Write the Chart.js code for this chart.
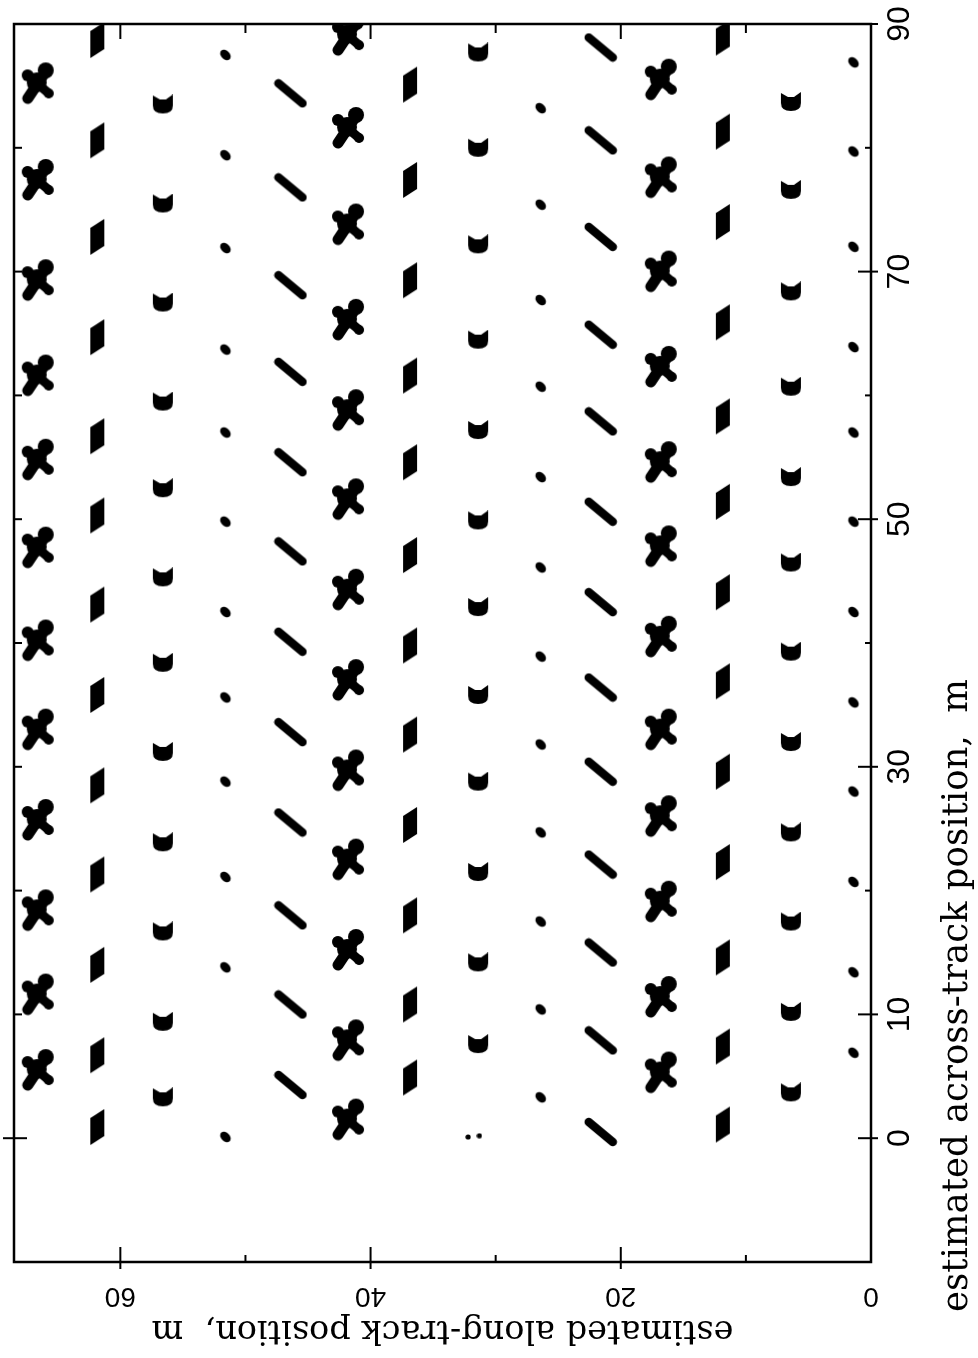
<!DOCTYPE html>
<html><head><meta charset="utf-8">
<script src="https://cdn.jsdelivr.net/npm/chart.js@4.4.1/dist/chart.umd.min.js"></script>
<style>
html,body{margin:0;padding:0;background:#fff;overflow:hidden;width:978px;height:1358px}
#wrap{position:absolute;left:0;top:0;width:1358px;height:978px;transform-origin:0 0;transform:translate(0px,1358px) rotate(-90deg);}
canvas{display:block}
</style></head>
<body><div id="wrap"><canvas id="c" width="1358" height="978" style="width:1358px;height:978px"></canvas></div>
<script>
// ---- text ----
const xAxisTitle = 'estimated across-track position,  m';
const yAxisTitle = 'estimated along-track position,  m';
// ---- ticks ----
const xTicks = [-10, 0, 10, 20, 30, 40, 50, 60, 70, 80, 90];
const xTickLabels = ['', '0', '10', '', '30', '', '50', '', '70', '', '90'];
const yTicks = [0, 10, 20, 30, 40, 50, 60];
const yTickLabels = ['0', '', '20', '', '40', '', '60'];
// ---- along-track position of each row of targets (m) ----
const rowAlong = [66.6, 61.8, 56.6, 51.6, 46.4, 41.8, 36.8, 31.4, 26.4, 21.6, 16.8, 11.8, 6.4, 1.4];
const rowShape = ['figure', 'bar', 'cup', 'dot', 'slash', 'figure', 'bar', 'cup', 'dot', 'slash', 'figure', 'bar', 'cup', 'dot'];
// ---- across-track positions of targets in each row (m) ----
const acrossR1 = [85.2, 77.4, 69.3, 61.6, 54.8, 47.7, 40.2, 33.0, 25.7, 18.4, 11.6, 5.5];
const acrossR2 = [88.7, 80.6, 72.8, 64.7, 56.7, 50.3, 43.1, 35.8, 28.5, 21.3, 14.0, 6.7, 0.9];
const acrossR3 = [83.5, 75.5, 67.5, 59.5, 52.5, 45.3, 38.4, 31.2, 23.9, 16.7, 9.4, 3.3];
const acrossR4 = [87.5, 79.4, 71.9, 63.7, 57.0, 49.8, 42.5, 35.6, 28.8, 21.1, 13.8, 0.1];
const acrossR5 = [84.4, 76.8, 68.9, 61.9, 54.6, 47.4, 40.1, 32.8, 25.5, 18.0, 10.8, 4.3];
const acrossR6 = [89.1, 81.6, 73.8, 66.1, 58.8, 51.6, 44.3, 37.0, 29.7, 22.5, 15.2, 7.9, 1.5];
const acrossR7 = [85.1, 77.4, 69.3, 61.6, 54.6, 47.1, 39.8, 32.6, 25.3, 18.0, 10.8, 4.9];
const acrossR8 = [87.7, 80.0, 72.2, 64.5, 57.2, 49.9, 42.9, 35.8, 28.8, 21.5, 14.2, 7.6];
const acrossR9 = [83.2, 75.4, 67.7, 60.7, 53.4, 46.1, 38.9, 31.8, 24.7, 17.5, 10.4, 3.3];
const acrossR10 = [88.1, 80.6, 72.8, 64.9, 57.9, 50.6, 43.3, 36.4, 29.6, 22.1, 15.0, 7.9, 0.5];
const acrossR11 = [85.5, 77.6, 70.0, 62.3, 54.6, 47.8, 40.5, 33.0, 26.0, 19.1, 11.4, 5.3];
const acrossR12 = [88.9, 81.3, 74.0, 65.9, 58.3, 51.4, 44.1, 36.9, 29.6, 22.3, 14.6, 7.4, 1.1];
const acrossR13 = [83.7, 76.6, 68.4, 60.7, 53.4, 46.5, 39.3, 32.0, 24.7, 17.5, 10.2, 3.7];
const acrossR14 = [86.9, 79.7, 72.0, 63.9, 57.0, 49.8, 42.5, 35.2, 28.0, 20.7, 13.4, 6.9];
const acrossRows = [acrossR1, acrossR2, acrossR3, acrossR4, acrossR5, acrossR6, acrossR7,
                    acrossR8, acrossR9, acrossR10, acrossR11, acrossR12, acrossR13, acrossR14];
// two faint echoes
const faintAcross = [0.1, 0.2];
const faintAlong = [32.2, 31.3];

// ---- marker sprites (drawn as seen on the page; rotated with the chart) ----
function sprite(w, h, draw) {
  const c = document.createElement('canvas');
  c.width = w; c.height = h;
  const g = c.getContext('2d');
  g.fillStyle = '#000'; g.strokeStyle = '#000'; g.lineCap = 'round'; g.lineJoin = 'round';
  draw(g);
  return c;
}
const shapes = {
  figure: sprite(38, 44, g => {
    g.lineWidth = 11;
    g.beginPath(); g.moveTo(9, 37); g.lineTo(27, 10); g.stroke();
    g.lineWidth = 9;
    g.beginPath(); g.moveTo(8, 13); g.lineTo(30, 32); g.stroke();
    g.beginPath(); g.arc(18, 21, 10, 0, Math.PI * 2); g.fill();
    g.beginPath(); g.arc(27, 9, 8, 0, Math.PI * 2); g.fill();
    g.beginPath(); g.arc(9, 14, 6, 0, Math.PI * 2); g.fill();
    g.beginPath(); g.arc(30, 32, 5, 0, Math.PI * 2); g.fill();
  }),
  bar: sprite(17, 38, g => {
    g.beginPath(); g.moveTo(1, 37); g.lineTo(1, 10); g.lineTo(15, 1); g.lineTo(15, 28); g.closePath(); g.fill();
  }),
  cup: sprite(22, 20, g => {
    g.beginPath(); g.moveTo(1, 1); g.lineTo(8, 5); g.lineTo(14, 5); g.lineTo(21, 0); g.lineTo(21, 11);
    g.quadraticCurveTo(21, 19, 11, 19); g.quadraticCurveTo(1, 19, 1, 11); g.closePath(); g.fill();
  }),
  dot: sprite(14, 14, g => { g.beginPath(); g.ellipse(7, 7, 6, 4.3, Math.PI / 4, 0, Math.PI * 2); g.fill(); }),
  slash: sprite(34, 30, g => { g.lineWidth = 8.5; g.beginPath(); g.moveTo(5, 5); g.lineTo(29, 25); g.stroke(); }),
  speck: sprite(6, 6, g => { g.beginPath(); g.arc(3, 3, 2.6, 0, Math.PI * 2); g.fill(); })
};

const datasets = rowAlong.map((yv, i) => ({
  label: 'row ' + (i + 1),
  data: acrossRows[i].map(xv => ({ x: xv, y: yv })),
  pointStyle: shapes[rowShape[i]],
  rotation: 90,
  pointRadius: 8,
  clip: 0
}));
datasets.push({
  label: 'faint',
  data: faintAcross.map((xv, i) => ({ x: xv, y: faintAlong[i] })),
  pointStyle: shapes.speck,
  rotation: 90,
  pointRadius: 4,
  clip: 0
});

// frame with tick marks on all four sides, plus the across-track title
const framePlugin = {
  id: 'frame',
  afterDraw(chart) {
    const { ctx, chartArea: a } = chart;
    const xs = chart.scales.x, ys = chart.scales.y;
    ctx.save();
    ctx.strokeStyle = '#000';
    ctx.lineWidth = 2.5;
    ctx.strokeRect(a.left, a.top, a.right - a.left, a.bottom - a.top);
    ctx.lineWidth = 2;
    const seg = (x1, y1, x2, y2) => { ctx.beginPath(); ctx.moveTo(x1, y1); ctx.lineTo(x2, y2); ctx.stroke(); };
    xs.ticks.forEach(t => {
      const p = xs.getPixelForValue(t.value);
      const major = xTickLabels[xTicks.indexOf(t.value)] !== '';
      seg(p, a.bottom - (major ? 13 : 6), p, a.bottom + (major ? 7 : 0));
      if (t.value === 0) seg(p, a.top - 11, p, a.top + 13);
      else seg(p, a.top, p, a.top + 8);
    });
    ys.ticks.forEach(t => {
      const p = ys.getPixelForValue(t.value);
      const major = yTickLabels[yTicks.indexOf(t.value)] !== '';
      if (t.value === 0) return;
      seg(a.left - (major ? 7 : 0), p, a.left + (major ? 15 : 7), p);
      seg(a.right - (major ? 15 : 9), p, a.right, p);
    });
    ctx.fillStyle = '#000';
    ctx.font = '35.5px "DejaVu Serif"';
    ctx.textAlign = 'left';
    ctx.textBaseline = 'middle';
    ctx.fillText(xAxisTitle, a.left - 50, a.bottom + 87);
    ctx.restore();
  }
};

new Chart(document.getElementById('c'), {
  type: 'scatter',
  data: { datasets },
  plugins: [framePlugin],
  options: {
    responsive: false,
    devicePixelRatio: 1,
    animation: false,
    layout: { padding: { top: 14, right: 24, left: 0, bottom: 0 } },
    plugins: { legend: { display: false }, tooltip: { enabled: false } },
    scales: {
      x: {
        type: 'linear', min: -10, max: 90,
        afterBuildTicks: s => { s.ticks = xTicks.map(v => ({ value: v })); },
        afterFit: s => { s.height = 107; s.paddingLeft = 0; s.paddingRight = 0; },
        grid: { display: false, drawTicks: false },
        border: { display: false },
        ticks: {
          autoSkip: false, maxRotation: 0, minRotation: 0, padding: 10,
          color: '#000', font: { family: '"Liberation Sans"', size: 32 },
          callback: v => xTickLabels[xTicks.indexOf(v)] ?? ''
        }
      },
      y: {
        type: 'linear', min: 0, max: 68.5,
        afterBuildTicks: s => { s.ticks = yTicks.map(v => ({ value: v })); },
        afterFit: s => { s.width = 96; s.paddingTop = 0; s.paddingBottom = 0; },
        grid: { display: false, drawTicks: false },
        border: { display: false },
        ticks: {
          autoSkip: false, minRotation: 90, maxRotation: 90, padding: 18, crossAlign: 'center',
          color: '#000', font: { family: '"Liberation Sans"', size: 28 },
          callback: v => yTickLabels[yTicks.indexOf(v)] ?? ''
        },
        title: {
          display: true, text: yAxisTitle, color: '#000',
          font: { family: '"DejaVu Serif"', size: 33.5 },
          padding: { top: 8, bottom: 0 }
        }
      }
    }
  }
});
</script>
</body></html>
